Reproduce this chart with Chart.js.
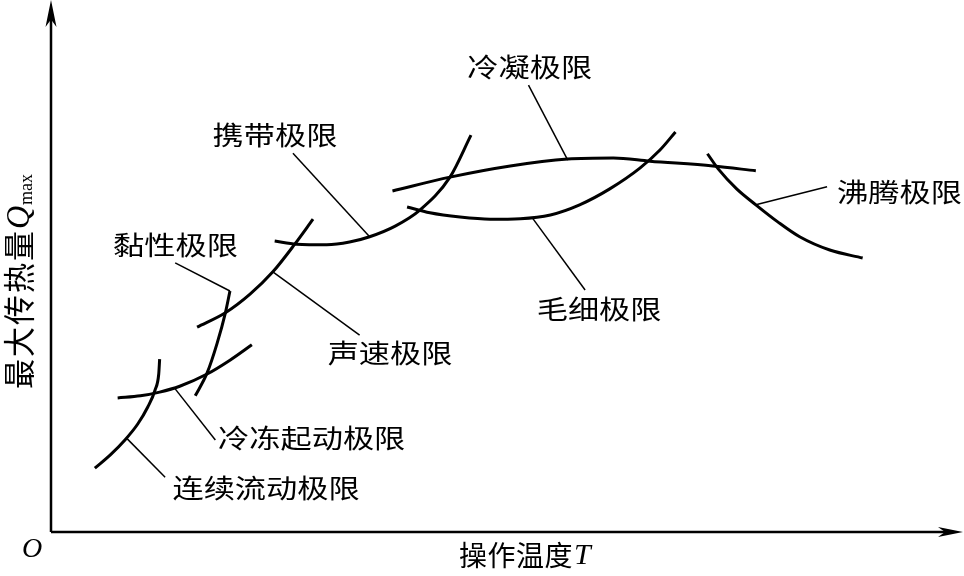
<!DOCTYPE html>
<html>
<head>
<meta charset="utf-8">
<title>最大传热量与操作温度</title>
<script src="https://cdn.jsdelivr.net/npm/chart.js@4.4.1/dist/chart.umd.min.js"></script>
<style>
  html, body { margin: 0; padding: 0; background: #fff; }
  #wrap { width: 964px; height: 576px; }
</style>
</head>
<body>
<div id="wrap"><canvas id="c" width="964" height="576"></canvas></div>
<script>
(function () {
  "use strict";

  /* ---- values: T and Qmax in arbitrary units (0-100) ---- */
  var limitNames = ["连续流动极限", "冷冻起动极限", "黏性极限", "声速极限",
                    "携带极限", "冷凝极限", "毛细极限", "沸腾极限"];

  var continuousFlow = [[4.8, 12.0], [6.5, 14.5], [8.1, 17.3], [9.5, 20.3], [10.6, 23.5], [11.4, 26.7],
                        [11.8, 29.7], [11.9, 32.5]];
  var freezeStartup  = [[7.3, 25.2], [9.8, 25.6], [11.9, 26.3], [14.1, 27.4], [17.1, 29.7], [19.6, 32.3], [22.0, 35.2]];
  var viscous        = [[15.8, 25.6], [17.1, 29.9], [18.2, 35.5], [19.1, 41.2], [19.6, 45.3]];
  var sonic          = [[16.0, 38.5], [19.1, 41.2], [21.8, 44.7], [24.3, 48.9], [26.7, 54.1], [28.7, 58.8]];
  var entrainment    = [[24.5, 54.7], [26.9, 54.1], [30.2, 54.0], [32.7, 54.5], [34.9, 55.5], [37.7, 57.5],
                        [40.4, 60.5], [43.7, 66.7], [46.0, 74.6]];
  var condensation   = [[37.4, 64.1], [43.7, 66.7], [50.3, 68.8], [56.6, 70.1], [61.6, 70.3], [65.6, 69.7],
                        [72.5, 68.8], [77.2, 67.9]];
  var capillary      = [[39.0, 61.1], [41.5, 60.0], [44.8, 59.2], [48.1, 58.8], [51.4, 58.9], [54.7, 59.6],
                        [57.9, 61.5], [61.2, 64.5], [64.5, 68.4], [66.7, 71.8], [68.4, 75.2]];
  var boiling        = [[71.9, 71.1], [73.1, 68.2], [75.1, 64.5], [77.2, 61.5], [79.6, 58.3], [82.0, 55.5],
                        [85.3, 53.0], [88.9, 51.5]];

  // same order as limitNames
  var curves = [continuousFlow, freezeStartup, viscous, sonic, entrainment, condensation, capillary, boiling];

  // leader lines: point on the curve -> end beside the label
  var leaderFrom = [[8.3, 17.6], [13.6, 26.9], [19.6, 45.3], [24.3, 48.9], [34.9, 55.5], [56.6, 69.9], [52.7, 59.1], [77.2, 61.5]];
  var leaderTo   = [[12.5, 10.3], [18.0, 17.3], [13.6, 50.6], [33.8, 37.0], [26.5, 71.2], [52.3, 84.0], [58.5, 45.5], [85.0, 64.9]];
  // label anchors (left edge, vertical middle)
  var labelAt    = [[13.3, 8.3], [18.3, 17.7], [6.8, 54.0], [30.3, 33.7], [17.7, 74.6], [45.6, 87.4], [53.2, 41.9], [86.1, 63.9]];

  var INK = "#000";
  var CJK = "'Noto Sans CJK SC', 'Noto Sans', sans-serif";
  var SERIF = "'Liberation Serif', 'DejaVu Serif', serif";
  var STRETCH = 1.2; // the original figure is a bit wider than tall

  function pts(list) {
    return list.map(function (p) { return { x: p[0], y: p[1] }; });
  }

  var datasets = [];
  curves.forEach(function (c, i) {
    datasets.push({
      label: limitNames[i], data: pts(c), showLine: true, borderColor: INK,
      borderWidth: 3, pointRadius: 0, cubicInterpolationMode: "monotone",
      fill: false, clip: false, borderCapStyle: "butt"
    });
  });
  leaderFrom.forEach(function (a, i) {
    datasets.push({
      label: limitNames[i] + " leader", data: pts([a, leaderTo[i]]), showLine: true,
      borderColor: INK, borderWidth: 1.5, pointRadius: 0, tension: 0, fill: false, clip: false
    });
  });

  function arrowHead(ctx, tx, ty, dx, dy, len, half) {
    var bx = tx - dx * len, by = ty - dy * len;
    var nx = -dy, ny = dx;
    ctx.beginPath();
    ctx.moveTo(tx, ty);
    ctx.lineTo(bx + nx * half, by + ny * half);
    ctx.lineTo(tx - dx * len * 0.72, ty - dy * len * 0.72);
    ctx.lineTo(bx - nx * half, by - ny * half);
    ctx.closePath();
    ctx.fill();
  }

  /* ---- axes with arrows, limit labels and axis titles ---- */
  var decor = {
    id: "decor",
    afterDraw: function (chart) {
      var ctx = chart.ctx, a = chart.chartArea;
      var xs = chart.scales.x, ys = chart.scales.y;
      ctx.save();
      ctx.strokeStyle = INK;
      ctx.fillStyle = INK;

      // axes
      ctx.lineWidth = 2.5;
      ctx.beginPath();
      ctx.moveTo(a.left, a.bottom);
      ctx.lineTo(a.left, a.top + 12);
      ctx.moveTo(a.left, a.bottom);
      ctx.lineTo(a.right - 12, a.bottom);
      ctx.stroke();
      arrowHead(ctx, a.left, a.top, 0, -1, 27, 5.5);
      arrowHead(ctx, a.right - 1, a.bottom, 1, 0, 25, 5);

      // limit labels
      ctx.font = "26px " + CJK;
      ctx.textAlign = "left";
      ctx.textBaseline = "middle";
      labelAt.forEach(function (p, i) {
        ctx.save();
        ctx.translate(xs.getPixelForValue(p[0]), ys.getPixelForValue(p[1]));
        ctx.scale(STRETCH, 1);
        ctx.fillText(limitNames[i], 0, 0);
        ctx.restore();
      });

      // origin
      ctx.font = "italic 28px " + SERIF;
      ctx.textAlign = "center";
      ctx.textBaseline = "alphabetic";
      ctx.fillText("O", a.left - 19, a.bottom + 25);

      // x title
      var xt = "操作温度", x0 = a.left + 408, yMid = a.bottom + 23;
      ctx.textAlign = "left";
      ctx.textBaseline = "middle";
      ctx.font = "28px " + CJK;
      for (var k = 0; k < xt.length; k++) ctx.fillText(xt[k], x0 + k * 28.5, yMid);
      ctx.font = "italic 30px " + SERIF;
      ctx.fillText("T", x0 + xt.length * 28.5 + 1, yMid + 1);

      // y title (rotated, reads bottom to top)
      var yt = "最大传热量", pitch = 32;
      ctx.save();
      ctx.translate(19, (a.top + a.bottom) / 2 + 16);
      ctx.rotate(-Math.PI / 2);
      ctx.scale(1, 1.05);
      ctx.font = "italic 32px " + SERIF;
      var qW = ctx.measureText("Q").width;
      ctx.font = "18px " + SERIF;
      var mW = ctx.measureText("max").width;
      var total = yt.length * pitch + qW + mW;
      var s = -total / 2;
      ctx.font = "30px " + CJK;
      for (var j = 0; j < yt.length; j++) ctx.fillText(yt[j], s + j * pitch, 0);
      s += yt.length * pitch;
      ctx.font = "italic 32px " + SERIF;
      ctx.fillText("Q", s, 1);
      ctx.font = "18px " + SERIF;
      ctx.fillText("max", s + qW + 1, 8);
      ctx.restore();

      ctx.restore();
    }
  };

  new Chart(document.getElementById("c").getContext("2d"), {
    type: "scatter",
    data: { datasets: datasets },
    options: {
      responsive: false,
      animation: false,
      devicePixelRatio: 1,
      layout: { padding: { left: 51, right: 0, top: 0, bottom: 44 } },
      plugins: { legend: { display: false }, tooltip: { enabled: false } },
      scales: {
        x: { type: "linear", min: 0, max: 100, display: false },
        y: { type: "linear", min: 0, max: 100, display: false }
      }
    },
    plugins: [decor]
  });
})();
</script>
</body>
</html>
